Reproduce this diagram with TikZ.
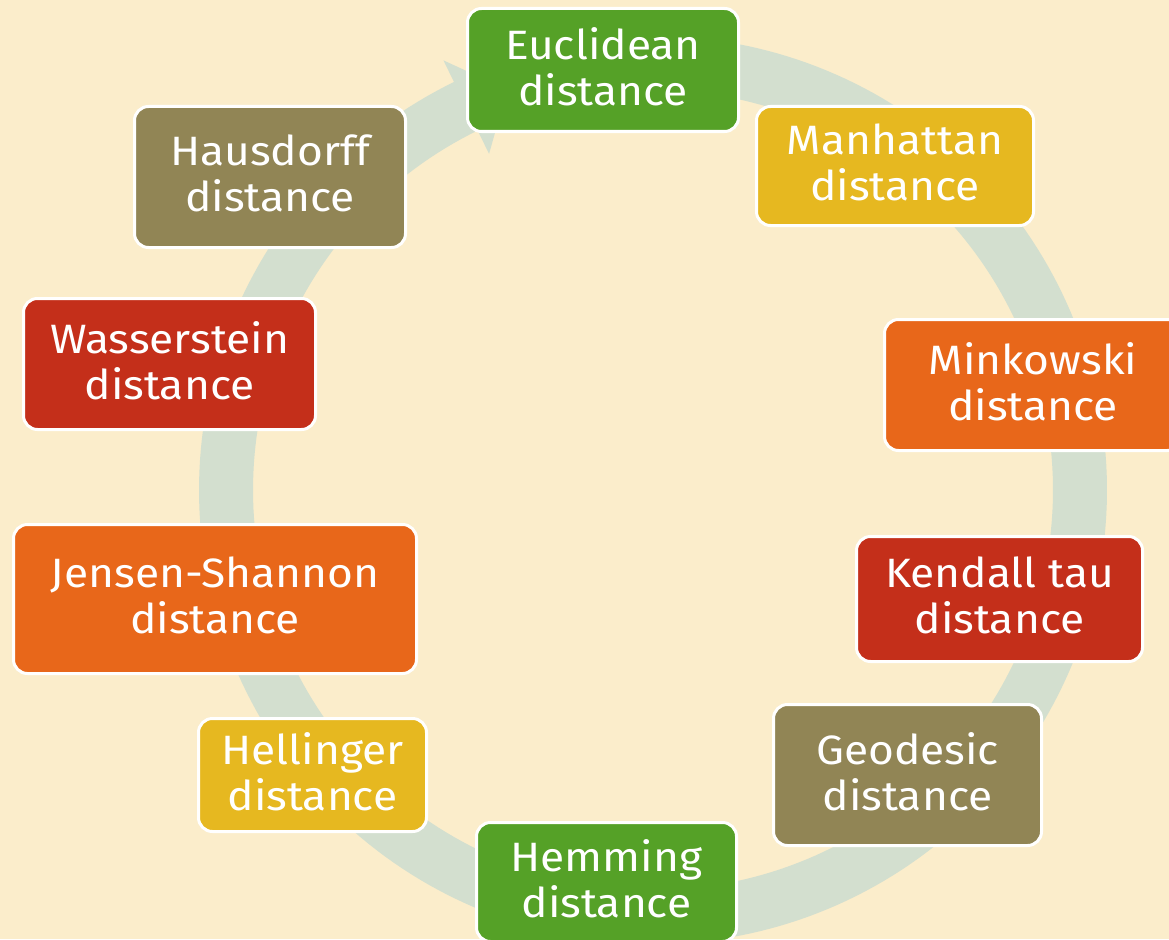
\documentclass[tikz,border=0pt]{standalone}
\usepackage{fontspec}
\setmainfont{Fira Sans}[FakeStretch=1.08]
\definecolor{bgcream}{RGB}{251,237,203}
\definecolor{ringgreen}{RGB}{211,223,207}
\definecolor{cgreen}{RGB}{85,161,39}
\definecolor{cyellow}{RGB}{230,184,32}
\definecolor{corange}{RGB}{232,103,26}
\definecolor{cred}{RGB}{196,47,26}
\definecolor{colive}{RGB}{145,133,85}
\begin{document}
\begin{tikzpicture}[x=1pt,y=-1pt,
  box/.style={rectangle, rounded corners=14pt, draw=white, line width=3pt,
    text=white, align=center, inner sep=0pt, text depth=7pt,
    font=\fontsize{41}{46}\selectfont}]
\useasboundingbox (0,0) rectangle (1169,939);
\clip (0,0) rectangle (1169,939);
\fill[bgcream] (0,0) rectangle (1169,939);

% circular arrow running clockwise round the ring
\fill[ringgreen]
  plot[domain=-95:244, samples=260] ({653+454*cos(\x)},{490+454*sin(\x)})
  -- ({653+478*cos(244)},{490+478*sin(244)})
  -- ({653+426*cos(250)},{490+426*sin(250)})
  -- ({653+374*cos(244)},{490+374*sin(244)})
  -- plot[domain=244:-95, samples=260] ({653+400*cos(\x)},{490+400*sin(\x)})
  -- cycle;

% distance boxes
\node[box, fill=cgreen,  minimum width=271pt, minimum height=123pt] (euclid) at (603,70)    {Euclidean\\distance};
\node[box, fill=cyellow, minimum width=277pt, minimum height=119pt] (manh)   at (895,166)   {Manhattan\\distance};
\node[box, fill=corange, minimum width=297pt, minimum height=131pt] (mink)   at (1033,385)  {Minkowski\\distance};
\node[box, fill=cred,    minimum width=286pt, minimum height=125pt] (kend)   at (999.5,599) {Kendall tau\\distance};
\node[box, fill=colive,  minimum width=268pt, minimum height=141pt] (geod)   at (907.5,775) {Geodesic\\distance};
\node[box, fill=cgreen,  minimum width=260pt, minimum height=119pt] (hemm)   at (606.5,882) {Hemming\\distance};
\node[box, fill=cyellow, minimum width=228pt, minimum height=113pt] (hell)   at (312.5,775) {Hellinger\\distance};
\node[box, fill=corange, minimum width=403pt, minimum height=149pt] (jens)   at (215,599)   {Jensen-Shannon\\distance};
\node[box, fill=cred,    minimum width=292pt, minimum height=131pt] (wass)   at (169.5,364) {Wasserstein\\distance};
\node[box, fill=colive,  minimum width=271pt, minimum height=141pt] (haus)   at (270,177)   {Hausdorff\\distance};
\end{tikzpicture}
\end{document}
